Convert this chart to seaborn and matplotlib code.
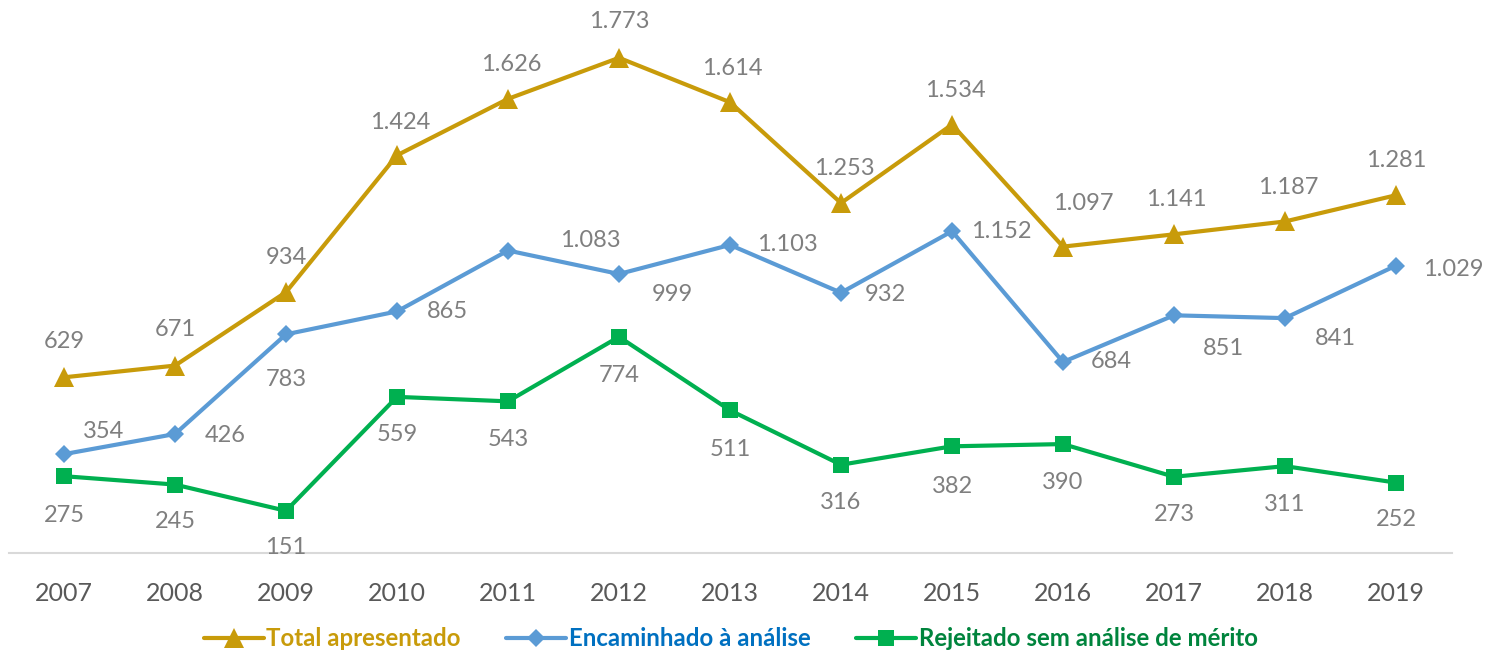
import matplotlib
matplotlib.use("Agg")
import matplotlib.pyplot as plt
import seaborn as sns
import pandas as pd
from matplotlib.lines import Line2D

years = ["2007", "2008", "2009", "2010", "2011", "2012", "2013",
         "2014", "2015", "2016", "2017", "2018", "2019"]
total = [629, 671, 934, 1424, 1626, 1773, 1614, 1253, 1534, 1097, 1141, 1187, 1281]
encaminhado = [354, 426, 783, 865, 1083, 999, 1103, 932, 1152, 684, 851, 841, 1029]
rejeitado = [275, 245, 151, 559, 543, 774, 511, 316, 382, 390, 273, 311, 252]
series_names = ["Total apresentado", "Encaminhado à análise",
                "Rejeitado sem análise de mérito"]

# label offsets in pixels (style)
off_total = [(0, 36), (0, 36), (0, 35), (3, 33), (3, 34), (0, 36), (2, 34),
             (3, 35), (3, 34), (20, 43), (2, 35), (3, 34), (0, 35)]
off_enc = [(40, 23), (50, -1), (0, -45), (50, 0), (82, 10), (53, -21), (57, 0),
           (44, -2), (49, 0), (48, 0), (49, -33), (50, -20), (57, -4)]
off_rej = [(0, -39), (0, -37), (0, -37), (0, -38), (0, -38), (0, -39), (0, -39),
           (0, -38), (0, -40), (0, -38), (0, -38), (0, -38), (0, -37)]

sns.set_theme(style="white")
plt.rcParams["font.family"] = ["Lato", "DejaVu Sans"]

df = pd.DataFrame({
    "x": list(range(len(years))) * 3,
    "v": total + encaminhado + rejeitado,
    "s": [series_names[0]] * len(years) + [series_names[1]] * len(years)
         + [series_names[2]] * len(years),
})

line_colors = ["#C89B0A", "#5B9BD5", "#00B050"]
text_colors = ["#C89B0A", "#0070C0", "#00843D"]
markers = ["^", "D", "s"]
msizes = [14, 9, 12]

fig = plt.figure(figsize=(14.91, 6.53), dpi=100)
W, H = 1491, 653
ax = fig.add_axes([8.5 / W, (H - 553) / H, (1451.5 - 8.5) / W, 553 / H])

for i, name in enumerate(series_names):
    sub = df[df["s"] == name]
    sns.lineplot(data=sub, x="x", y="v", ax=ax, color=line_colors[i],
                 marker=markers[i], markersize=msizes[i], linewidth=3,
                 markeredgewidth=0, legend=False)

fmt = lambda v: f"{v:,}".replace(",", ".")
for vals, offs in [(total, off_total), (encaminhado, off_enc), (rejeitado, off_rej)]:
    for i, (v, o) in enumerate(zip(vals, offs)):
        ax.annotate(fmt(v), xy=(i, v), xytext=o, textcoords="offset pixels",
                    ha="center", va="center", fontsize=17, color="#7F7F7F")

ax.set_xlim(-0.5, len(years) - 0.5)
ax.set_ylim(0, 1980)
ax.set_xticks(range(len(years)))
ax.set_xticklabels(years)
ax.tick_params(axis="x", length=0, pad=21, labelsize=18, labelcolor="#595959")
ax.set_yticks([])
ax.set_xlabel("")
ax.set_ylabel("")
for sp in ["top", "left", "right"]:
    ax.spines[sp].set_visible(False)
ax.spines["bottom"].set_color("#D9D9D9")
ax.spines["bottom"].set_linewidth(1.5)
ax.patch.set_alpha(0)

handles = [Line2D([0], [0], color=line_colors[i], marker=markers[i],
                  markersize=msizes[i], linewidth=3, markeredgewidth=0)
           for i in range(3)]
leg = fig.legend(handles, series_names, loc="center",
                 bbox_to_anchor=(0.49, 1 - 639 / H), ncol=3, frameon=False,
                 handlelength=2.5, columnspacing=1.9, handletextpad=0.1,
                 prop={"weight": "bold", "size": 17.3})
for t, c in zip(leg.get_texts(), text_colors):
    t.set_color(c)

fig.savefig("out.png", dpi=100)
